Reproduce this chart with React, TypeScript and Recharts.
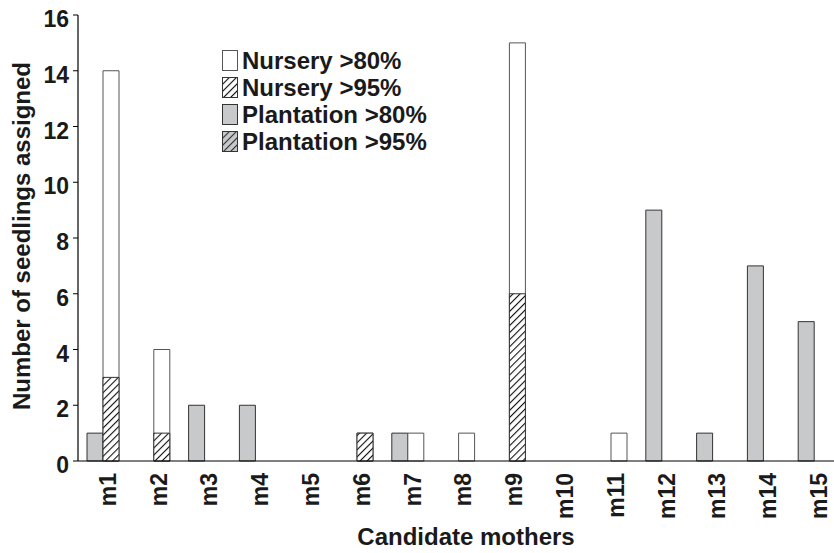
import { BarChart, Bar, XAxis, YAxis, Legend, Label } from 'recharts';

const mothers = ['m1', 'm2', 'm3', 'm4', 'm5', 'm6', 'm7', 'm8', 'm9', 'm10', 'm11', 'm12', 'm13', 'm14', 'm15'];
const nursery80 = [14, 4, 0, 0, 0, 1, 1, 1, 15, 0, 1, 0, 0, 0, 0];
const nursery95 = [3, 1, 0, 0, 0, 1, 0, 0, 6, 0, 0, 0, 0, 0, 0];
const plantation80 = [1, 0, 2, 2, 0, 0, 1, 0, 0, 0, 0, 9, 1, 7, 5];
const plantation95 = [0, 0, 0, 0, 0, 0, 0, 0, 0, 0, 0, 0, 0, 0, 0];
const yTicks = [0, 2, 4, 6, 8, 10, 12, 14, 16];

const data = mothers.map((name, i) => ({
    name,
    nursery80: nursery80[i],
    nursery95: nursery95[i],
    plantation80: plantation80[i],
    plantation95: plantation95[i],
}));

const FONT = '"Liberation Sans", Arial, Helvetica, sans-serif';
const GRAY = '#c8c9cb';

const legendItems = [
    { label: 'Nursery >80%', fill: '#ffffff', stroke: '#555' },
    { label: 'Nursery >95%', fill: 'url(#hatchN)', stroke: '#333' },
    { label: 'Plantation >80%', fill: GRAY, stroke: '#333' },
    { label: 'Plantation >95%', fill: 'url(#hatchP)', stroke: '#333' },
];

const renderLegend = () => (
    <div style={{ fontFamily: FONT, fontWeight: 'bold', fontSize: 24, color: '#1a1a1a' }}>
        {legendItems.map((it) => (
            <div key={it.label} style={{ display: 'flex', alignItems: 'center', height: 27 }}>
                <svg width={17} height={22} style={{ marginRight: 3 }}>
                    <rect x={0.5} y={0.5} width={15} height={20} fill={it.fill} stroke={it.stroke} />
                </svg>
                <span style={{ lineHeight: '27px' }}>{it.label}</span>
            </div>
        ))}
    </div>
);

const App = () => {
    return (
        <div style={{ position: 'absolute', left: 0, top: 0, width: 834, height: 553, overflow: 'hidden', background: '#fff' }}>
            <BarChart
                width={840}
                height={553}
                data={data}
                margin={{ top: 15, right: 0, left: 0, bottom: 0 }}
                barSize={16}
                barGap={0}
            >
                <defs>
                    <pattern id="hatchN" width={5} height={5} patternUnits="userSpaceOnUse" patternTransform="rotate(45)">
                        <rect width={5} height={5} fill="#ffffff" />
                        <line x1={0} y1={0} x2={0} y2={5} stroke="#111" strokeWidth={2.2} />
                    </pattern>
                    <pattern id="hatchP" width={5} height={5} patternUnits="userSpaceOnUse" patternTransform="rotate(45)">
                        <rect width={5} height={5} fill={GRAY} />
                        <line x1={0} y1={0} x2={0} y2={5} stroke="#333" strokeWidth={2.2} />
                    </pattern>
                </defs>
                <XAxis
                    xAxisId="main"
                    dataKey="name"
                    height={92}
                    interval={0}
                    axisLine={{ stroke: '#000', strokeWidth: 1.2 }}
                    tickLine={false}
                    tickSize={0}
                    tickMargin={12}
                    angle={-90}
                    textAnchor="end"
                    tick={{ fontSize: 23, fontWeight: 'bold', fill: '#1a1a1a', fontFamily: FONT, dx: -4 }}
                >
                    <Label
                        content={() => (
                            <text x={466} y={545} textAnchor="middle" fontSize={24} fontWeight="bold" fill="#1a1a1a" fontFamily={FONT}>
                                Candidate mothers
                            </text>
                        )}
                    />
                </XAxis>
                <XAxis xAxisId="over" dataKey="name" hide />
                <YAxis
                    width={78}
                    domain={[0, 16]}
                    ticks={yTicks}
                    interval={0}
                    axisLine={{ stroke: '#000', strokeWidth: 1.2 }}
                    tickLine={{ stroke: '#000' }}
                    tickSize={5}
                    tickMargin={4}
                    tick={{ fontSize: 23, fontWeight: 'bold', fill: '#1a1a1a', fontFamily: FONT, dy: 4 }}
                >
                    <Label
                        content={() => (
                            <text
                                x={30}
                                y={236}
                                transform="rotate(-90 30 236)"
                                textAnchor="middle"
                                fontSize={24}
                                fontWeight="bold"
                                fill="#1a1a1a"
                                fontFamily={FONT}
                            >
                                Number of seedlings assigned
                            </text>
                        )}
                    />
                </YAxis>
                <Legend
                    layout="vertical"
                    align="center"
                    verticalAlign="middle"
                    content={renderLegend}
                    wrapperStyle={{ left: 222, top: 47, width: 'auto', height: 'auto' }}
                />
                <Bar xAxisId="main" dataKey="plantation80" name="Plantation >80%" fill={GRAY} stroke="#333" strokeWidth={1} isAnimationActive={false} />
                <Bar xAxisId="main" dataKey="nursery80" name="Nursery >80%" fill="#ffffff" stroke="#555" strokeWidth={1} isAnimationActive={false} />
                <Bar xAxisId="over" dataKey="plantation95" name="Plantation >95%" fill="url(#hatchP)" stroke="#333" strokeWidth={1} isAnimationActive={false} />
                <Bar xAxisId="over" dataKey="nursery95" name="Nursery >95%" fill="url(#hatchN)" stroke="#333" strokeWidth={1} isAnimationActive={false} />
            </BarChart>
        </div>
    );
};

export default App;
